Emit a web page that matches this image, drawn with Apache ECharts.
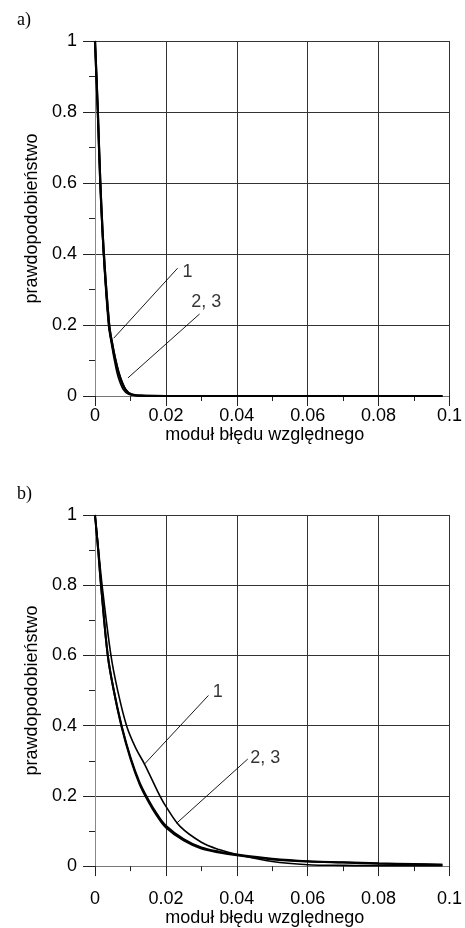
<!DOCTYPE html>
<html><head><meta charset="utf-8">
<script src="https://cdn.jsdelivr.net/npm/echarts@6/dist/echarts.min.js"></script>
<style>html,body{margin:0;padding:0;background:#fff}#c{width:465px;height:928px}</style>
</head><body><div id="c"></div>
<script>
// ---- data (a) ----
var aX1 = [0, 0.0008, 0.0015, 0.0024, 0.0038, 0.0046, 0.0055, 0.0065, 0.008, 0.0095, 0.012, 0.02, 0.04, 0.06, 0.08, 0.098];
var aY1 = [1, 0.8, 0.6, 0.4, 0.2, 0.15, 0.1, 0.055, 0.018, 0.005, 0.001, 0, 0, 0, 0, 0];
var aX23 = [0, 0.0008, 0.0015, 0.0025, 0.004, 0.0048, 0.0058, 0.007, 0.0086, 0.0102, 0.013, 0.02, 0.04, 0.06, 0.08, 0.098];
var aY23 = [1, 0.8, 0.6, 0.4, 0.2, 0.15, 0.1, 0.055, 0.018, 0.005, 0.001, 0, 0, 0, 0, 0];
// ---- data (b) ----
var bX1 = [0, 0.001, 0.002, 0.0045, 0.0064, 0.0089, 0.0115, 0.014, 0.0183, 0.02, 0.024, 0.03, 0.035, 0.04, 0.05, 0.06, 0.07, 0.08, 0.098];
var bY1 = [1, 0.9, 0.8, 0.6, 0.5, 0.4, 0.336, 0.29, 0.2, 0.17, 0.113, 0.068, 0.047, 0.033, 0.013, 0.004, 0.002, 0.001, 0.001];
var bX23 = [0, 0.0009, 0.0017, 0.0036, 0.0053, 0.0075, 0.01, 0.0126, 0.015, 0.0175, 0.02, 0.025, 0.03, 0.035, 0.04, 0.05, 0.06, 0.07, 0.08, 0.09, 0.098];
var bY2 = [1, 0.9, 0.8, 0.6, 0.5, 0.4, 0.31, 0.238, 0.19, 0.148, 0.115, 0.077, 0.053, 0.041, 0.033, 0.021, 0.014, 0.011, 0.008, 0.006, 0.004];
var bY3 = [1, 0.9, 0.8, 0.6, 0.5, 0.397, 0.306, 0.233, 0.185, 0.143, 0.11, 0.073, 0.05, 0.039, 0.031, 0.019, 0.013, 0.01, 0.007, 0.005, 0.004];
// ---- annotations ----
var aLead1 = [[0.0053, 0.163], [0.0233, 0.36]];
var aLead23 = [[0.0093, 0.051], [0.0295, 0.231]];
var bLead1 = [[0.014, 0.291], [0.032, 0.486]];
var bLead23 = [[0.023, 0.122], [0.0431, 0.305]];
var aText = [{v: [0.0261, 0.349], t: '1'}, {v: [0.0314, 0.265], t: '2, 3'}];
var bText = [{v: [0.0346, 0.495], t: '1'}, {v: [0.048, 0.307], t: '2, 3'}];
var xTitle = 'moduł błędu względnego';
var yTitle = 'prawdopodobieństwo';

function pairs(xs, ys) { return xs.map(function (x, i) { return [x, ys[i]]; }); }

var FONT = 'Liberation Sans';
var gridColor = '#333';
function xAxis(idx, margin, gap) {
  return {
    gridIndex: idx, type: 'value', min: 0, max: 0.1, interval: 0.02,
    name: xTitle, nameLocation: 'middle', nameGap: gap,
    nameTextStyle: {fontFamily: FONT, fontSize: 18, color: '#000', padding: [0, 15, 0, 0]},
    axisLine: {show: true, onZero: false, lineStyle: {color: '#777', width: 1}},
    axisTick: {show: true, length: 10, lineStyle: {color: '#222'}},
    minorTick: {show: true, splitNumber: 2, length: 5, lineStyle: {color: '#222'}},
    splitLine: {show: true, lineStyle: {color: gridColor, width: 1}},
    axisLabel: {fontFamily: FONT, fontSize: 18, color: '#000', margin: margin,
      formatter: function (v) { return String(+v.toFixed(2)); }}
  };
}
function yAxis(idx) {
  return {
    gridIndex: idx, type: 'value', min: 0, max: 1, interval: 0.2,
    name: yTitle, nameLocation: 'middle', nameGap: 53,
    nameTextStyle: {fontFamily: FONT, fontSize: 18, color: '#000'},
    axisLine: {show: true, onZero: false, lineStyle: {color: '#888', width: 1}},
    axisTick: {show: true, length: 12, lineStyle: {color: '#222'}},
    minorTick: {show: true, splitNumber: 2, length: 6, lineStyle: {color: '#222'}},
    splitLine: {show: true, lineStyle: {color: gridColor, width: 1}},
    axisLabel: {fontFamily: FONT, fontSize: 18, color: '#000', margin: 18,
      formatter: function (v) { return String(+v.toFixed(1)); }}
  };
}
function curve(idx, data, w) {
  return {type: 'line', xAxisIndex: idx, yAxisIndex: idx, data: data, showSymbol: false,
    symbol: 'none', smooth: 0.35, lineStyle: {color: '#000', width: w}, z: 5, silent: true, animation: false};
}
function lead(idx, data) {
  return {type: 'line', xAxisIndex: idx, yAxisIndex: idx, data: data, symbol: 'none',
    lineStyle: {color: '#000', width: 0.9}, z: 6, silent: true, animation: false};
}
function labels(idx, arr) {
  return {type: 'scatter', xAxisIndex: idx, yAxisIndex: idx, symbolSize: 0, silent: true, animation: false,
    data: arr.map(function (d) { return {value: d.v, label: {formatter: d.t}}; }),
    label: {show: true, position: 'inside', fontFamily: FONT, fontSize: 18, color: '#000'}, z: 7};
}

var chart = echarts.init(document.getElementById('c'), null, {renderer: 'canvas'});
chart.setOption({
  animation: false,
  backgroundColor: '#fff',
  grid: [
    {left: 95, right: 14, top: 41, height: 355},
    {left: 95, right: 14, top: 515, height: 355}
  ],
  xAxis: [xAxis(0, 11, 26), xAxis(1, 24, 41)],
  yAxis: [yAxis(0), yAxis(1)],
  graphic: [
    {type: 'text', left: 17, top: 11, style: {text: 'a)', font: '18px "Liberation Serif"', fill: '#000'}},
    {type: 'text', left: 17, top: 485, style: {text: 'b)', font: '18px "Liberation Serif"', fill: '#000'}}
  ],
  series: [
    curve(0, pairs(aX1, aY1), 1.6),
    curve(0, pairs(aX23, aY23), 2.2),
    curve(0, pairs(aX23, aY23), 2.2),
    lead(0, aLead1), lead(0, aLead23), labels(0, aText),
    curve(1, pairs(bX1, bY1), 1.6),
    curve(1, pairs(bX23, bY2), 2),
    curve(1, pairs(bX23, bY3), 2),
    lead(1, bLead1), lead(1, bLead23), labels(1, bText)
  ]
});
</script></body></html>
